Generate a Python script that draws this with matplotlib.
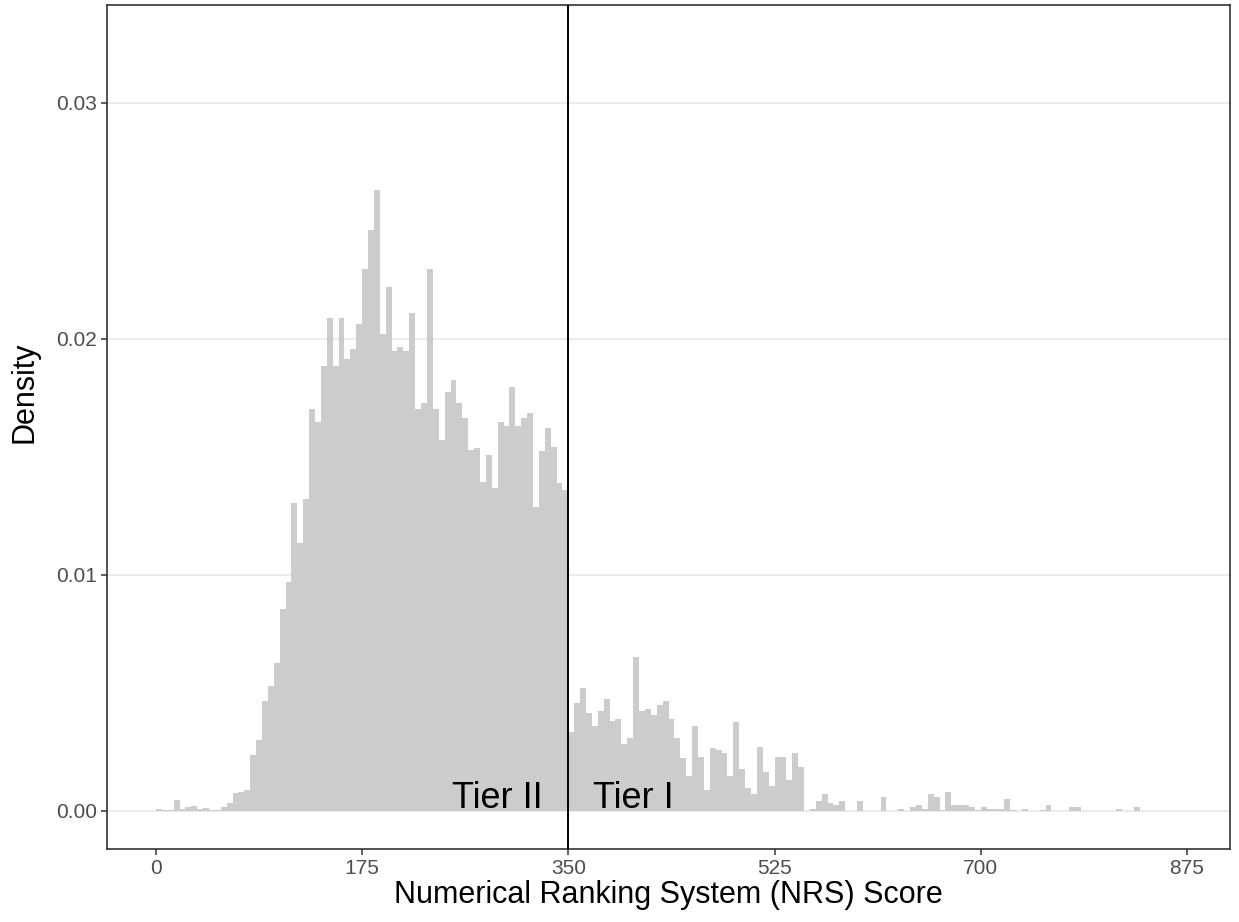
import matplotlib
matplotlib.use("Agg")
import matplotlib.pyplot as plt
import numpy as np

plt.rcParams['font.family'] = ['Liberation Sans', 'DejaVu Sans']

# histogram of NRS scores, 5-point bins starting at 0 (density per bin)
BIN_WIDTH = 5
density = [
    0.00010, 0.00004, 0.00004, 0.00045, 0.00008, 0.00015, 0.00020, 0.00008, 0.00012, 0.00004,
    0.00005, 0.00018, 0.00034, 0.00078, 0.00080, 0.00087, 0.00237, 0.00300, 0.00466, 0.00530,
    0.00626, 0.00855, 0.00970, 0.01306, 0.01137, 0.01320, 0.01703, 0.01650, 0.01887, 0.02090,
    0.01887, 0.02090, 0.01914, 0.01958, 0.02064, 0.02295, 0.02460, 0.02629, 0.02020, 0.02220,
    0.01950, 0.01966, 0.01950, 0.02110, 0.01703, 0.01727, 0.02295, 0.01703, 0.01572, 0.01777,
    0.01826, 0.01727, 0.01664, 0.01530, 0.01537, 0.01395, 0.01508, 0.01367, 0.01650, 0.01631,
    0.01798, 0.01631, 0.01664, 0.01685, 0.01290, 0.01525, 0.01621, 0.01544, 0.01388, 0.01360,
    0.00336, 0.00459, 0.00520, 0.00414, 0.00360, 0.00424, 0.00475, 0.00381, 0.00388, 0.00282,
    0.00308, 0.00651, 0.00424, 0.00431, 0.00405, 0.00449, 0.00466, 0.00388, 0.00308, 0.00223,
    0.00148, 0.00360, 0.00230, 0.00089, 0.00266, 0.00258, 0.00247, 0.00148, 0.00379, 0.00177,
    0.00099, 0.00071, 0.00273, 0.00167, 0.00106, 0.00230, 0.00230, 0.00131, 0.00244, 0.00185,
    0.00000, 0.00008, 0.00044, 0.00070, 0.00035, 0.00027, 0.00044, 0.00000, 0.00000, 0.00044,
    0.00000, 0.00000, 0.00000, 0.00061, 0.00000, 0.00000, 0.00008, 0.00000, 0.00017, 0.00025,
    0.00008, 0.00070, 0.00061, 0.00004, 0.00079, 0.00027, 0.00027, 0.00027, 0.00018, 0.00004,
    0.00017, 0.00008, 0.00008, 0.00008, 0.00052, 0.00003, 0.00000, 0.00008, 0.00000, 0.00000,
    0.00003, 0.00025, 0.00000, 0.00000, 0.00000, 0.00017, 0.00017, 0.00000, 0.00000, 0.00000,
    0.00000, 0.00000, 0.00000, 0.00008, 0.00000, 0.00000, 0.00017,
]
tier_cutoff = 350
tier_labels = ["Tier II", "Tier I"]
tier_label_x = [289.5, 405]
x_ticks = [0, 175, 350, 525, 700, 875]
y_ticks = [0.00, 0.01, 0.02, 0.03]

edges = np.arange(len(density) + 1) * BIN_WIDTH
centers = edges[:-1] + BIN_WIDTH / 2

fig = plt.figure(figsize=(12.39, 9.22), dpi=100)
ax = fig.add_axes([0.0864, 0.0792, 0.9063, 0.9154])

ax.hist(centers, bins=edges, weights=density, color='#CCCCCC', zorder=2)
ax.axvline(tier_cutoff, color='black', lw=1.4, zorder=3)

for lab, xv in zip(tier_labels, tier_label_x):
    ax.text(xv, 0.00013, lab, ha='center', va='baseline', fontsize=26, color='black', zorder=4)

ax.set_xlim(-41.5, 911.5)
ax.set_ylim(-0.00161, 0.03415)
ax.set_xticks(x_ticks)
ax.set_yticks(y_ticks)
ax.set_yticklabels([f"{v:.2f}" for v in y_ticks])

# theme_bw look
ax.grid(axis='y', color='#EBEBEB', lw=1.5, zorder=0)
ax.set_axisbelow(True)
for s in ax.spines.values():
    s.set_color('#333333')
    s.set_linewidth(1.2)
ax.tick_params(colors='#333333', length=4.5, width=1.1, labelsize=15,
               labelcolor='#4D4D4D', pad=3)

ax.set_xlabel("Numerical Ranking System (NRS) Score", fontsize=22, labelpad=1)
ax.set_ylabel("Density", fontsize=22)
ax.yaxis.set_label_coords(-0.06, 0.541)

fig.savefig("out.png", dpi=100)
